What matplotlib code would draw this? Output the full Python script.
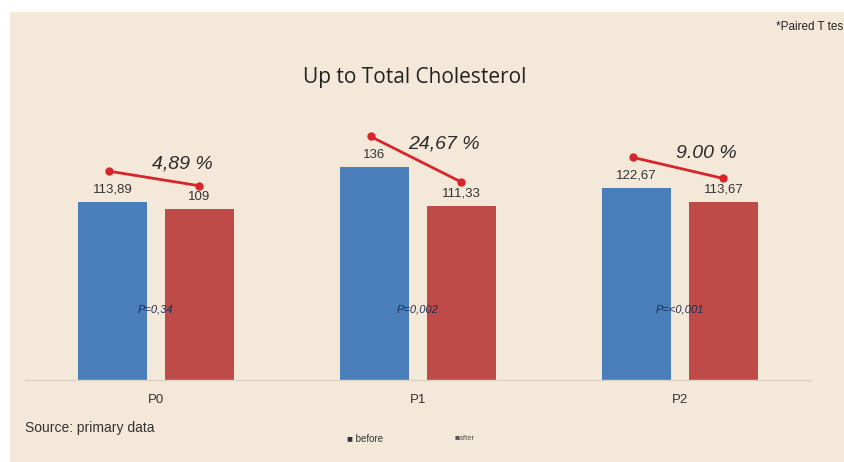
import numpy as np
import matplotlib.pyplot as plt
from matplotlib.patches import Rectangle

groups = ["P0", "P1", "P2"]
before = [113.89, 136, 122.67]
after = [109, 111.33, 113.67]
before_labels = ["113,89", "136", "122,67"]
after_labels = ["109", "111,33", "113,67"]
pct_labels = ["4,89 %", "24,67 %", "9.00 %"]
p_labels = ["P=0,34", "P=0,002", "P=<0,001"]

BG = "#F4E8D9"
BLUE = "#4A7EBB"
RED = "#BE4B48"
LINE = "#D7262B"

plt.rcParams["font.family"] = ["Liberation Sans", "DejaVu Sans"]

fig = plt.figure(figsize=(8.45, 4.62), dpi=100, facecolor="white")
fig.patches.append(Rectangle((10 / 845, 0), 1, (462 - 12) / 462,
                             transform=fig.transFigure, facecolor=BG,
                             edgecolor="none", zorder=-10))

ax = fig.add_axes([25 / 845, 82 / 462, 786 / 845, 281.9 / 462])
ax.set_facecolor("none")
ax.set_zorder(1)

x = np.arange(len(groups))
w = 0.263
off = 0.166
ax.bar(x - off, before, w, color=BLUE, zorder=2)
ax.bar(x + off, after, w, color=RED, zorder=2)

for i in range(len(groups)):
    ax.text(x[i] - off, before[i] + 4, before_labels[i], ha="center", va="bottom",
            fontsize=9.5, color="#333333")
    ax.text(x[i] + off, after[i] + 4, after_labels[i], ha="center", va="bottom",
            fontsize=9.5, color="#333333")
    # change line between the two bars
    x0, x1 = x[i] - off - 0.015, x[i] + off
    y0, y1 = before[i] + 19.5, after[i] + 15
    ax.plot([x0, x1], [y0, y1], color=LINE, lw=2, marker="o", ms=5, zorder=3)
    ax.text(x[i] + 0.1, (y0 + y1) / 2 + 9.5, pct_labels[i], ha="center", va="center",
            fontsize=14, style="italic", color="#2B2B2B")
    ax.text(x[i], 45, p_labels[i], ha="center", va="center", fontsize=8,
            style="italic", color="#1F2D50", zorder=4)

ax.set_xlim(-0.5, 2.5)
ax.set_ylim(0, 180)
ax.set_xticks(x)
ax.set_xticklabels(groups, fontsize=9.5, color="#333333")
ax.tick_params(axis="x", length=0, pad=10)
ax.set_yticks([])
for s in ["top", "right", "left"]:
    ax.spines[s].set_visible(False)
ax.spines["bottom"].set_color("#DCD3C6")
ax.spines["bottom"].set_linewidth(1)

fig.text(415 / 845, 1 - 77 / 462, "Up to Total Cholesterol", ha="center", va="center",
         fontsize=15, color="#222222", family=["Open Sans", "DejaVu Sans"])
fig.text(25 / 845, 1 - 428 / 462, "Source: primary data", ha="left", va="center",
         fontsize=10, color="#333333")
fig.text(843 / 845, 1 - 27 / 462, "*Paired T tes", ha="right", va="center",
         fontsize=8.5, color="#222222")
fig.text(347 / 845, 1 - 439 / 462, "■ before", ha="left", va="center",
         fontsize=7, color="#333333")
fig.text(455 / 845, 1 - 439 / 462, "■after", ha="left", va="center",
         fontsize=5.5, color="#555555")

fig.savefig("out.png", dpi=100, facecolor="white")
